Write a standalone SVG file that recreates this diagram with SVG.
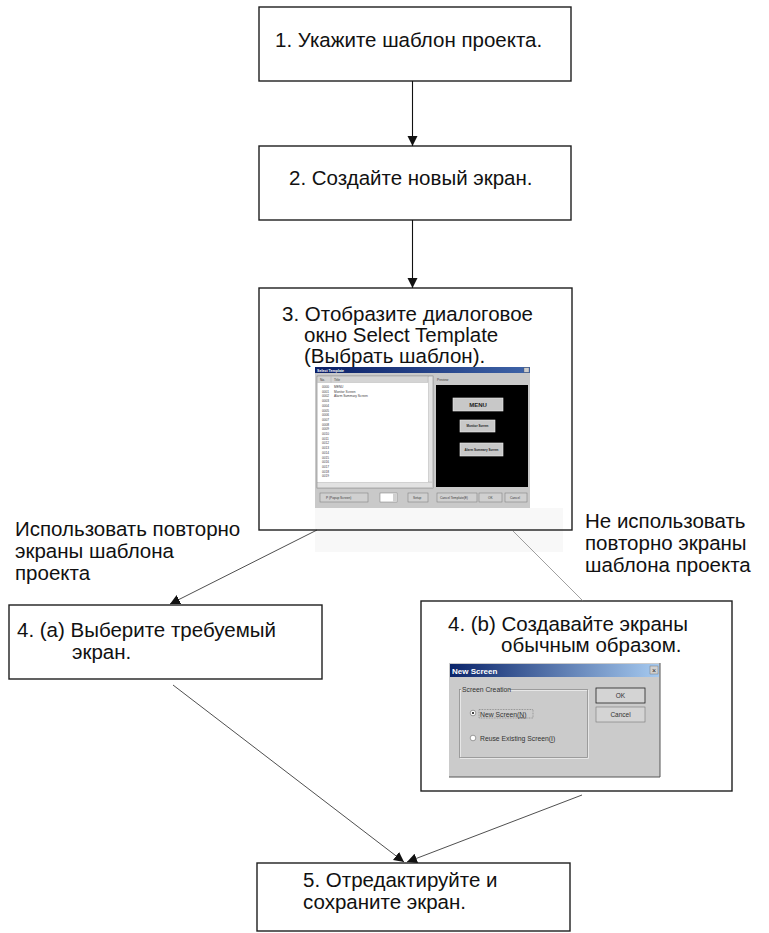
<svg xmlns="http://www.w3.org/2000/svg" width="769" height="933" viewBox="0 0 769 933">
<defs>
<style>
.box{fill:#fff;stroke:#1e1e1e;stroke-width:1.4}
.frame{fill:none;stroke:#1e1e1e;stroke-width:1.4}
.t{font-family:"Liberation Sans",Arial,sans-serif;font-size:20.5px;fill:#111}
.c{fill:none;stroke:#111;stroke-width:1.1}
.d{fill:none;stroke:#222;stroke-width:0.8}
.g{fill:none;stroke:#777;stroke-width:0.7}
.s{font-family:"Liberation Sans",Arial,sans-serif;font-size:3.2px;fill:#3a3a3a}
.sw{font-family:"Liberation Sans",Arial,sans-serif;font-weight:bold;fill:#fff}
.sb{font-family:"Liberation Sans",Arial,sans-serif;font-weight:bold;fill:#222;text-anchor:middle}
.btn{fill:#d0d0d0;stroke:#777;stroke-width:0.5}
.pbtn{fill:#c8c8c8;stroke:#eee;stroke-width:0.6}
.d7{font-family:"Liberation Sans",Arial,sans-serif;font-size:6.8px;fill:#333}
.dc{font-family:"Liberation Sans",Arial,sans-serif;font-size:6.5px;fill:#333;text-anchor:middle}
</style>
<marker id="ah" markerUnits="userSpaceOnUse" markerWidth="11" markerHeight="11" refX="10" refY="5" orient="auto"><path d="M0,0 L10,5 L0,10 z" fill="#111"/></marker>
<linearGradient id="tb1" x1="0" x2="1" y1="0" y2="0"><stop offset="0" stop-color="#0a1f66"/><stop offset="1" stop-color="#3f64a8"/></linearGradient>
<linearGradient id="tb2" x1="0" x2="1" y1="0" y2="0"><stop offset="0" stop-color="#0a246a"/><stop offset="1" stop-color="#a6caf0"/></linearGradient>
</defs>

<g id="n1">
<rect class="box" x="259" y="7" width="312" height="74"/>
<text class="t" x="275" y="47">1. Укажите шаблон проекта.</text>
</g>

<g id="n2">
<rect class="box" x="259" y="146" width="312" height="74"/>
<text class="t" x="289" y="185">2. Создайте новый экран.</text>
</g>

<g id="n3">
<rect x="259" y="288" width="313" height="242" fill="#fff"/>
<rect x="315" y="508" width="248" height="44" fill="#f8f8f8"/>
<text class="t" x="282" y="321">3. Отобразите диалоговое</text>
<text class="t" x="304" y="342">окно Select Template</text>
<text class="t" x="304" y="363">(Выбрать шаблон).</text>
<g id="select-template-shot">
<rect x="315" y="367" width="215" height="141" fill="#c9c9c9"/>
<rect x="315" y="367" width="215" height="6" fill="url(#tb1)"/>
<text class="sw" x="317" y="371.5" font-size="3.6">Select Template</text>
<rect x="524" y="367.8" width="5" height="4.4" fill="#ccc" stroke="#555" stroke-width="0.3"/>
<rect x="317" y="376" width="116" height="112" fill="#fff" stroke="#777" stroke-width="0.6"/>
<rect x="317.5" y="376.5" width="110.5" height="6" fill="#d4d4d4" stroke="#999" stroke-width="0.3"/>
<line x1="331" y1="376.5" x2="331" y2="382.5" stroke="#888" stroke-width="0.3"/>
<text class="s" x="320" y="381">No.</text>
<text class="s" x="334" y="381">Title</text>
<rect x="428.3" y="376.5" width="4.5" height="105.5" fill="#e2e2e2" stroke="#999" stroke-width="0.3"/>
<rect x="317.5" y="482.3" width="115.3" height="5.2" fill="#e2e2e2" stroke="#999" stroke-width="0.3"/>
<g class="s">
<text x="322" y="388">0000</text><text x="334" y="388">MENU</text>
<text x="322" y="392.7">0001</text><text x="334" y="392.7">Monitor Screen</text>
<text x="322" y="397.4">0002</text><text x="334" y="397.4">Alarm Summary Screen</text>
<text x="322" y="402.1">0003</text>
<text x="322" y="406.8">0004</text>
<text x="322" y="411.5">0005</text>
<text x="322" y="416.2">0006</text>
<text x="322" y="420.9">0007</text>
<text x="322" y="425.6">0008</text>
<text x="322" y="430.3">0009</text>
<text x="322" y="435">0010</text>
<text x="322" y="439.7">0011</text>
<text x="322" y="444.4">0012</text>
<text x="322" y="449.1">0013</text>
<text x="322" y="453.8">0014</text>
<text x="322" y="458.5">0015</text>
<text x="322" y="463.2">0016</text>
<text x="322" y="467.9">0017</text>
<text x="322" y="472.6">0018</text>
<text x="322" y="477.3">0019</text>
</g>
<text class="s" x="437" y="381">Preview</text>
<rect x="436" y="385" width="92" height="102" fill="#000"/>
<rect class="pbtn" x="453" y="398" width="50" height="13"/>
<text class="sb" x="478" y="407" font-size="6">MENU</text>
<rect class="pbtn" x="460" y="420" width="35" height="12"/>
<text class="sb" x="477.5" y="427.3" font-size="3">Monitor Screen</text>
<rect class="pbtn" x="460" y="443" width="43" height="13"/>
<text class="sb" x="481.5" y="450.8" font-size="3">Alarm Summary Screen</text>
<rect class="btn" x="320" y="493" width="48" height="9"/>
<text class="s" x="326" y="498.8">P (Popup Screen)</text>
<rect x="380" y="493" width="17" height="9" fill="#fff" stroke="#777" stroke-width="0.5"/>
<rect x="393" y="493.3" width="3.7" height="8.4" fill="#d0d0d0"/>
<rect class="btn" x="408" y="493" width="20" height="9"/>
<text class="s" x="413" y="498.8">Setup</text>
<rect class="btn" x="437" y="493" width="40" height="9"/>
<text class="s" x="440" y="498.8">Cancel Template(E)</text>
<rect class="btn" x="479" y="493" width="23" height="9"/>
<text class="s" x="488" y="498.8">OK</text>
<rect class="btn" x="505" y="493" width="22" height="9"/>
<text class="s" x="510" y="498.8">Cancel</text>
</g>
<rect class="frame" x="259" y="288" width="313" height="242"/>
</g>

<g id="n4a">
<rect class="box" x="9" y="605" width="313" height="74"/>
<text class="t" x="17" y="637">4. (a) Выберите требуемый</text>
<text class="t" x="72" y="659">экран.</text>
</g>

<g id="n4b">
<rect class="box" x="421" y="601" width="311" height="190"/>
<text class="t" x="448" y="631">4. (b) Создавайте экраны</text>
<text class="t" x="501" y="652">обычным образом.</text>
<g id="new-screen-dialog">
<rect x="449" y="663" width="211" height="114" fill="#cbcbcb"/>
<polyline points="660,663 660,777 449,777" fill="none" stroke="#555" stroke-width="1"/>
<rect x="450" y="664" width="209" height="13" fill="url(#tb2)"/>
<text class="sw" x="452" y="673.5" font-size="8">New Screen</text>
<rect x="650" y="666" width="8" height="8" fill="#d0d0d0" stroke="#666" stroke-width="0.4"/>
<text x="654" y="672.5" font-size="7" font-family="Liberation Sans, Arial, sans-serif" text-anchor="middle" fill="#222">×</text>
<rect x="460.5" y="690.5" width="128" height="68" fill="none" stroke="#f2f2f2" stroke-width="0.7"/>
<rect x="459.5" y="689.5" width="128" height="68" fill="none" stroke="#888" stroke-width="0.7"/>
<rect x="461" y="685" width="48" height="8" fill="#cbcbcb"/>
<text class="d7" x="462" y="691.5">Screen Creation</text>
<circle cx="473" cy="713" r="2.8" fill="#fff" stroke="#666" stroke-width="0.6"/>
<circle cx="473" cy="713" r="1.1" fill="#111"/>
<rect x="479" y="709.5" width="54" height="8.5" fill="none" stroke="#333" stroke-width="0.4" stroke-dasharray="0.8 0.8"/>
<text class="d7" x="480" y="716.5">New Screen(<tspan text-decoration="underline">N</tspan>)</text>
<circle cx="473" cy="738" r="2.8" fill="#fff" stroke="#666" stroke-width="0.6"/>
<text class="d7" x="480" y="741">Reuse Existing Screen(<tspan text-decoration="underline">I</tspan>)</text>
<rect x="596" y="688" width="49" height="15" fill="#d4d4d4" stroke="#222" stroke-width="0.8"/>
<text class="dc" x="620.5" y="698">OK</text>
<rect x="596" y="707" width="49" height="15" fill="#d4d4d4" stroke="#777" stroke-width="0.6"/>
<text class="dc" x="620.5" y="717">Cancel</text>
</g>
</g>

<g id="n5">
<rect class="box" x="257" y="863" width="313" height="68"/>
<text class="t" x="303" y="887">5. Отредактируйте и</text>
<text class="t" x="303" y="909">сохраните экран.</text>
</g>

<g id="label-reuse">
<text class="t" x="15" y="536">Использовать повторно</text>
<text class="t" x="15" y="558">экраны шаблона</text>
<text class="t" x="15" y="580">проекта</text>
</g>

<g id="label-noreuse">
<text class="t" x="585" y="528">Не использовать</text>
<text class="t" x="585" y="550">повторно экраны</text>
<text class="t" x="585" y="572">шаблона проекта</text>
</g>

<g id="connectors">
<line class="c" x1="412.5" y1="81" x2="412.5" y2="146" marker-end="url(#ah)"/>
<line class="c" x1="412.5" y1="220" x2="412.5" y2="288" marker-end="url(#ah)"/>
<line class="d" x1="317" y1="530" x2="170" y2="604" marker-end="url(#ah)"/>
<line class="g" x1="513" y1="531" x2="583" y2="601"/>
<line class="d" x1="173" y1="685" x2="404" y2="862" marker-end="url(#ah)"/>
<line class="d" x1="582" y1="795" x2="407" y2="862" marker-end="url(#ah)"/>
</g>
</svg>
